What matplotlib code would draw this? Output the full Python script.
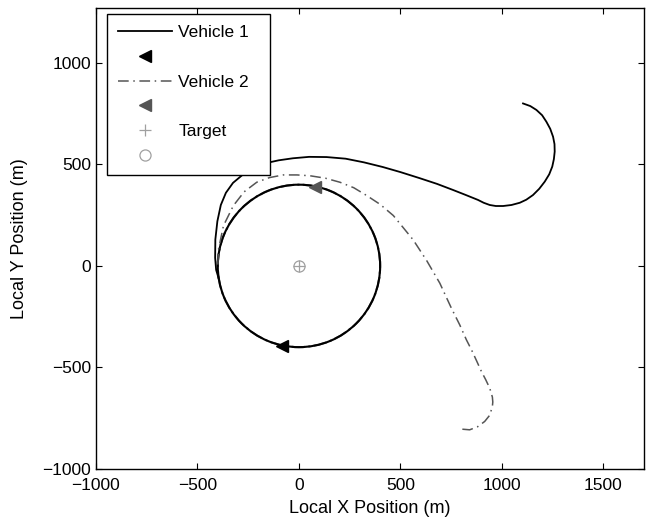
import numpy as np
import matplotlib
matplotlib.use("Agg")
import matplotlib.pyplot as plt
from matplotlib.patches import Arc
from matplotlib.lines import Line2D

plt.rcParams['font.family'] = ['Liberation Sans', 'DejaVu Sans']
plt.rcParams['font.size'] = 12.5

# approach path of vehicle 1 (m)
v1_x = [1104, 1140, 1170, 1198, 1219, 1238, 1252, 1259, 1260, 1256, 1248, 1233,
        1211, 1184, 1153, 1120, 1088, 1047, 1006, 970, 940, 910, 882, 820, 759,
        680, 595, 500, 413, 320, 230, 136, 50, -30, -100, -159, -215, -270, -325,
        -360, -385, -402, -412, -413, -408, -396]
v1_y = [800, 787, 768, 742, 710, 675, 636, 600, 563, 526, 489, 451, 415, 380,
        349, 326, 311, 300, 295, 295, 300, 311, 325, 350, 374, 404, 432, 462,
        487, 510, 528, 536, 537, 530, 520, 507, 485, 455, 409, 360, 300, 220,
        130, 40, -20, -60]

# approach path of vehicle 2 (m)
v2_x = [805, 841, 880, 915, 940, 953, 955, 953, 940, 920, 899, 875, 850, 825,
        792, 751, 694, 630, 563, 465, 400, 333, 270, 202, 130, 54, -10, -77,
        -145, -208, -270, -323, -372, -397, -400]
v2_y = [-804, -807, -792, -766, -735, -692, -670, -646, -602, -560, -520, -467,
        -413, -364, -290, -208, -85, 25, 128, 248, 303, 347, 385, 412, 432, 444,
        448, 448, 435, 412, 365, 297, 198, 79, 0]

# final positions
v1_end = (-85, -394)
v2_end = (79, 387)

# loiter circle around the target
target = (0, 0)
orbit_radius = 400

xticks = [-1000, -500, 0, 500, 1000, 1500]
yticks = [-1000, -500, 0, 500, 1000]

c1 = 'black'
c2 = '#555555'
ct = '#a0a0a0'
dashdot = (7, 3, 1, 3)

fig = plt.figure(figsize=(6.52, 5.18), dpi=100)
ax = fig.add_axes([96 / 652, 49 / 518, 548 / 652, 461 / 518])

# orbit segments (vehicle 2 first so vehicle 1 sits on top)
ax.add_patch(Arc(target, 2 * orbit_radius, 2 * orbit_radius, theta1=0, theta2=360,
                 color=c2, lw=1.5, linestyle='-.'))
ax.add_patch(Arc(target, 2 * orbit_radius, 2 * orbit_radius, theta1=0, theta2=360,
                 color=c1, lw=1.5))

ax.plot(v2_x, v2_y, color=c2, lw=1.1, linestyle='-.', dashes=dashdot)
ax.plot(v1_x, v1_y, color=c1, lw=1.3)

ax.plot(*v1_end, marker='<', color=c1, markersize=8, linestyle='none')
ax.plot(*v2_end, marker='<', color=c2, markersize=8, linestyle='none')
ax.plot(*target, marker='+', color=ct, markersize=8, linestyle='none', mew=0.9)
ax.plot(*target, marker='o', mfc='none', mec=ct, markersize=8, linestyle='none', mew=0.9)

ax.set_xlim(-1000, 1700)
ax.set_ylim(-1000, 1270)
ax.set_xticks(xticks)
ax.set_yticks(yticks)
ax.tick_params(direction='in', top=True, right=True, length=4, width=0.8)
ax.tick_params(axis='x', pad=6.5)
for sp in ax.spines.values():
    sp.set_linewidth(1.0)

ax.set_xlabel('Local X Position (m)', fontsize=13, labelpad=5)
ax.set_ylabel('Local Y Position (m)', fontsize=13, labelpad=10)

handles = [
    Line2D([], [], color=c1, lw=1.3),
    Line2D([], [], color=c1, marker='<', markersize=8, linestyle='none'),
    Line2D([], [], color=c2, lw=1.1, linestyle='-.', dashes=dashdot),
    Line2D([], [], color=c2, marker='<', markersize=8, linestyle='none'),
    Line2D([], [], color=ct, marker='+', markersize=8, linestyle='none', mew=0.9),
    Line2D([], [], mec=ct, mfc='none', marker='o', markersize=8, linestyle='none', mew=0.9),
]
labels = ['Vehicle 1', '', 'Vehicle 2  ', '', 'Target', '']
leg = ax.legend(handles, labels, loc='upper left', bbox_to_anchor=(0.02, 0.987),
                borderaxespad=0, handlelength=3.1, handletextpad=0.35,
                labelspacing=0.55, borderpad=0.65, fancybox=False,
                framealpha=1, edgecolor='black')
leg.get_frame().set_linewidth(1.0)

fig.savefig('out.png', dpi=100)
